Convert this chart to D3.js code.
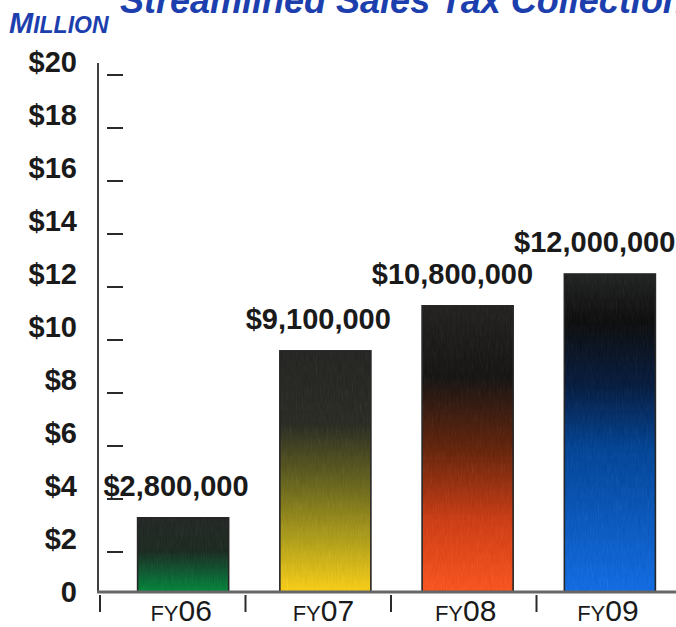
<!DOCTYPE html>
<html>
<head>
<meta charset="utf-8">
<script src="https://cdn.jsdelivr.net/npm/d3@7"></script>
<style>
  html, body { margin: 0; padding: 0; background: #fff; }
  svg { display: block; }
  text { font-family: "Liberation Sans", Arial, sans-serif; }
</style>
</head>
<body>
<svg id="chart" width="676" height="627"></svg>
<script>
// Streamlined sales tax collections, by fiscal year (dollars)
const categories = ["FY06", "FY07", "FY08", "FY09"];
const collections = [2800000, 9100000, 10800000, 12000000];
const valueLabels = ["$2,800,000", "$9,100,000", "$10,800,000", "$12,000,000"];
const yTickValues = [0, 2, 4, 6, 8, 10, 12, 14, 16, 18, 20];           // millions
const yTickLabels = ["0", "$2", "$4", "$6", "$8", "$10", "$12", "$14", "$16", "$18", "$20"];

// Gradient ramps per bar, top to bottom
const barRamps = [
  [["0%", "#2c302e"], ["45%", "#243229"], ["75%", "#17643b"], ["100%", "#0b8e43"]],
  [["0%", "#2d2d2b"], ["30%", "#31332c"], ["55%", "#6e6c26"], ["80%", "#bba923"], ["100%", "#ffd41f"]],
  [["0%", "#2b2a29"], ["25%", "#1f1d1c"], ["50%", "#6b2c14"], ["75%", "#d2451d"], ["100%", "#ff5c27"]],
  [["0%", "#2a2b2b"], ["15%", "#161616"], ["35%", "#0f2447"], ["55%", "#0b4c9c"], ["100%", "#1a73e8"]]
];

const svg = d3.select("#chart");
const blue = "#1d3fae";

// Scales
const y = d3.scaleLinear().domain([0, 20]).range([592, 62]);
const xBar = d3.scaleBand().domain(categories).range([112, 681])
  .paddingInner(0.36).paddingOuter(0.18);
const xTick = d3.scaleBand().domain(categories).range([100, 682]);

// Gradients and a light grain for the bar fills
const defs = svg.append("defs");
barRamps.forEach((ramp, i) => {
  const g = defs.append("linearGradient")
    .attr("id", "ramp" + i)
    .attr("x1", 0).attr("y1", 0).attr("x2", 0).attr("y2", 1);
  ramp.forEach(([off, col]) => g.append("stop").attr("offset", off).attr("stop-color", col));
});
const grain = defs.append("filter").attr("id", "grain")
  .attr("x", 0).attr("y", 0).attr("width", 1).attr("height", 1)
  .attr("color-interpolation-filters", "sRGB");
grain.append("feTurbulence").attr("type", "fractalNoise")
  .attr("baseFrequency", "0.8 0.08").attr("numOctaves", 2).attr("seed", 4).attr("result", "noise");
grain.append("feColorMatrix").attr("in", "noise").attr("type", "saturate").attr("values", 0).attr("result", "gray");
grain.append("feComposite").attr("in", "SourceGraphic").attr("in2", "gray")
  .attr("operator", "arithmetic").attr("k1", 0).attr("k2", 1).attr("k3", 0.12).attr("k4", -0.06)
  .attr("result", "mix");
grain.append("feComposite").attr("in", "mix").attr("in2", "SourceGraphic").attr("operator", "in");

// Title (runs off the top edge)
svg.append("text")
  .attr("x", 120).attr("y", 13)
  .attr("fill", blue)
  .attr("font-size", 36).attr("font-weight", "bold").attr("font-style", "italic")
  .text("Streamlined Sales Tax Collections");

// Unit label in small caps
const unit = svg.append("text")
  .attr("x", 9).attr("y", 33)
  .attr("fill", blue).attr("font-weight", "bold").attr("font-style", "italic");
unit.append("tspan").attr("font-size", 29).text("M");
unit.append("tspan").attr("font-size", 23).text("ILLION");

// Y axis line
svg.append("line")
  .attr("x1", 98).attr("x2", 98).attr("y1", 63).attr("y2", y(0))
  .attr("stroke", "#404040").attr("stroke-width", 2);

// Y tick labels
svg.append("g").selectAll("text")
  .data(yTickValues)
  .join("text")
  .attr("x", 77).attr("y", d => y(d)).attr("dy", "0.36em")
  .attr("text-anchor", "end")
  .attr("font-size", 29).attr("font-weight", "bold").attr("fill", "#1a1a1a")
  .text((d, i) => yTickLabels[i]);

// Y tick dashes, sitting just below each label
svg.append("g").selectAll("line")
  .data(yTickValues.filter(v => v > 0))
  .join("line")
  .attr("x1", 107).attr("x2", 123)
  .attr("y1", d => y(d) + 13).attr("y2", d => y(d) + 13)
  .attr("stroke", "#2a2a2a").attr("stroke-width", 2);

// Bars
const bars = svg.append("g");
bars.selectAll("rect.fill")
  .data(collections)
  .join("rect")
  .attr("class", "fill")
  .attr("x", (d, i) => xBar(categories[i]))
  .attr("y", d => y(d / 1e6))
  .attr("width", xBar.bandwidth())
  .attr("height", d => y(0) - y(d / 1e6))
  .attr("fill", (d, i) => `url(#ramp${i})`)
  .attr("filter", "url(#grain)");
bars.selectAll("rect.edge")
  .data(collections)
  .join("rect")
  .attr("class", "edge")
  .attr("x", (d, i) => xBar(categories[i]))
  .attr("y", d => y(d / 1e6))
  .attr("width", xBar.bandwidth())
  .attr("height", d => y(0) - y(d / 1e6))
  .attr("fill", "none")
  .attr("stroke", "#262626").attr("stroke-width", 1.6);

// Value labels
svg.append("g").selectAll("text")
  .data(collections)
  .join("text")
  .attr("x", (d, i) => xBar(categories[i]) + xBar.bandwidth() + 20)
  .attr("y", d => y(d / 1e6) - 22)
  .attr("text-anchor", "end")
  .attr("font-size", 29).attr("font-weight", "bold").attr("fill", "#1a1a1a")
  .text((d, i) => valueLabels[i]);

// Baseline
svg.append("line")
  .attr("x1", 97).attr("x2", 676).attr("y1", y(0)).attr("y2", y(0))
  .attr("stroke", "#666").attr("stroke-width", 3);

// Category separators below the baseline
svg.append("g").selectAll("line")
  .data(categories)
  .join("line")
  .attr("x1", d => xTick(d)).attr("x2", d => xTick(d))
  .attr("y1", y(0) + 3).attr("y2", y(0) + 20)
  .attr("stroke", "#2a2a2a").attr("stroke-width", 2);

// Category labels: small-caps "FY" + year digits
const cat = svg.append("g").selectAll("text")
  .data(categories)
  .join("text")
  .attr("x", d => xBar(d) + xBar.bandwidth() / 2 - 2)
  .attr("y", 621)
  .attr("text-anchor", "middle")
  .attr("fill", "#1a1a1a");
cat.append("tspan").attr("font-size", 22).text(d => d.slice(0, 2));
cat.append("tspan").attr("font-size", 30).text(d => d.slice(2));
</script>
</body>
</html>
